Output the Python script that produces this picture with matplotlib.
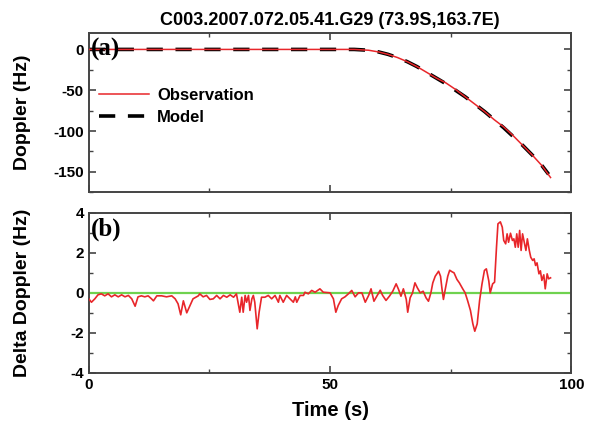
import matplotlib
matplotlib.use("Agg")
import matplotlib.pyplot as plt
import numpy as np

plt.rcParams["font.family"] = ["Liberation Sans", "DejaVu Sans"]
plt.rcParams["axes.unicode_minus"] = False

title = "C003.2007.072.05.41.G29 (73.9S,163.7E)"

# panel (a): doppler
model_t = [0, 10, 20, 30, 40, 50, 55, 58, 60, 62, 64, 66, 68, 70, 72, 74, 76, 78,
           80, 82, 84, 86, 88, 90, 92, 94, 95.3]
model_v = [0, 0, 0, 0, 0, 0, 0, -1, -3, -6, -10, -15, -21, -28, -35, -42, -50, -58,
           -67, -76, -86, -96, -107, -118, -130, -143, -153]
obs_t = [0, 10, 20, 30, 40, 50, 55, 58, 60, 62, 64, 66, 68, 70, 72, 74, 76, 78,
         80, 82, 84, 86, 88, 90, 92, 94, 95.7]
obs_v = [0, 0, 0, 0, 0, 0, 0, -1, -3, -6, -10, -15, -21, -28, -35, -41, -49, -58,
         -67, -76, -86, -95, -106, -118, -130, -143, -157]

# panel (b): delta doppler, (time, value) pairs
delta = [
    (0, -0.3), (0.55, -0.47), (1.25, -0.3), (1.9, -0.1), (2.6, -0.05), (3.3, -0.15),
    (4.0, -0.05), (4.7, -0.2), (5.4, -0.1), (6.1, -0.2), (6.8, -0.1), (7.5, -0.2),
    (8.2, -0.13), (8.9, -0.3), (9.6, -0.67), (10.2, -0.2), (10.9, -0.15), (11.6, -0.2),
    (12.3, -0.15), (13.0, -0.3), (13.4, -0.4), (14.1, -0.15), (15.1, -0.15), (16.1, -0.2),
    (17.2, -0.15), (17.9, -0.3), (18.5, -0.55), (19.05, -1.1), (19.6, -0.4), (20.3, -1.0),
    (21.0, -0.63), (21.6, -0.3), (22.7, -0.15), (23.0, -0.05), (23.7, -0.2), (24.4, -0.13),
    (25.1, -0.33), (25.8, -0.3), (26.5, -0.13), (27.2, -0.3), (27.9, -0.13), (28.6, -0.22),
    (29.3, -0.1), (30.0, -0.22), (30.6, -0.05), (31.3, -0.97), (31.7, -0.22), (32.0, -0.97),
    (32.4, -0.13), (32.7, -0.47), (33.1, -0.13), (33.4, -0.88), (33.8, -0.3), (34.1, -0.13),
    (34.4, -0.47), (34.9, -1.8), (35.3, -0.97), (35.8, -0.22), (36.5, -0.22), (37.2, -0.13),
    (37.9, -0.3), (38.6, -0.13), (39.3, -0.47), (39.6, -0.13), (40.3, -0.47), (41.0, -0.13),
    (41.7, -0.3), (42.4, -0.47), (42.8, -0.2), (43.1, -0.47), (43.8, -0.13), (44.5, -0.13),
    (44.8, 0.03), (45.5, -0.05), (46.2, 0.12), (46.9, 0.03), (47.9, 0.2), (48.6, 0.03),
    (50.0, 0.0), (50.7, -0.3), (51.2, -0.97), (51.7, -0.63), (52.4, -0.3), (53.1, -0.2),
    (53.8, -0.05), (54.5, 0.12), (55.2, -0.2), (55.9, 0.0), (56.6, 0.0), (57.3, -0.47),
    (58.0, -0.13), (58.5, 0.2), (59.1, -0.42), (59.7, -0.17), (60.4, 0.13), (60.9, -0.13),
    (61.6, -0.38), (62.3, -0.17), (63.0, 0.08), (63.7, 0.45), (64.2, 0.17), (64.7, -0.17),
    (65.2, 0.2), (65.8, -0.33), (66.1, -0.97), (66.6, -0.25), (67.1, 0.0), (67.6, 0.5),
    (68.1, 0.25), (68.7, 0.0), (69.3, 0.08), (69.9, -0.25), (70.4, -0.42), (70.9, 0.0),
    (71.3, 0.5), (71.8, 0.83), (72.5, 1.08), (72.9, 0.83), (73.2, 0.2), (73.5, -0.33),
    (73.9, 0.2), (74.4, 0.83), (74.8, 1.13), (75.3, 1.05), (75.7, 1.0), (76.3, 0.67),
    (76.8, 0.5), (77.5, 0.2), (78.0, 0.0), (78.5, -0.38), (79.1, -0.88), (79.6, -1.55),
    (80.0, -1.92), (80.5, -1.55), (81.0, -0.38), (81.5, 0.45), (82.0, 1.12), (82.4, 1.2),
    (82.9, 0.6), (83.2, 0.0), (83.7, 0.45), (84.1, 0.53), (84.5, 2.28), (84.8, 3.45),
    (85.3, 3.55), (85.7, 3.28), (86.0, 2.62), (86.4, 2.45), (86.7, 2.95), (87.0, 2.53),
    (87.4, 2.98), (87.8, 2.62), (88.1, 2.7), (88.4, 2.28), (88.7, 2.95), (89.0, 2.28),
    (89.3, 3.12), (89.6, 2.12), (89.9, 2.95), (90.2, 2.6), (90.6, 2.12), (90.9, 2.7),
    (91.3, 2.12), (91.6, 1.78), (92.0, 1.62), (92.3, 1.7), (92.6, 1.37), (92.9, 1.5),
    (93.3, 0.95), (93.6, 1.1), (93.9, 0.62), (94.3, 0.9), (94.6, 0.2), (95.0, 0.95),
    (95.3, 0.7), (95.7, 0.75),
]
delta_t = [p[0] for p in delta]
delta_v = [p[1] for p in delta]

red = "#e8262a"

fig = plt.figure(figsize=(5.92, 4.30), dpi=100)
ax1 = fig.add_axes([0.150, 0.553, 0.815, 0.370])
ax2 = fig.add_axes([0.150, 0.133, 0.815, 0.372])

ax1.plot(model_t, model_v, color="black", lw=2.6, ls=(0, (4.5, 3.5)), label="Model", zorder=2)
ax1.plot(obs_t, obs_v, color=red, lw=1.1, label="Observation", zorder=3)
ax1.set_xlim(0, 100)
ax1.set_ylim(-175, 20)
ax1.set_yticks([0, -50, -100, -150])
ax1.set_yticks([-25, -75, -125, -175], minor=True)
ax1.set_xticks([0, 50, 100])
ax1.set_xticks([25, 75], minor=True)
ax1.tick_params(labelbottom=False)
ax1.set_ylabel("Doppler (Hz)", fontsize=14, fontweight="bold")
ax1.set_title(title, fontsize=13, fontweight="bold", pad=6)
ax1.text(0.005, 0.97, "(a)", transform=ax1.transAxes, fontsize=18, fontweight="bold",
         family="Liberation Serif", va="top", ha="left")
h, l = ax1.get_legend_handles_labels()
ax1.legend(h[::-1], l[::-1], loc="upper left", bbox_to_anchor=(-0.01, 0.75), frameon=False,
           handlelength=3.0, prop={"weight": "bold", "size": 12},
           labelspacing=0.4, handletextpad=0.5)

ax2.axhline(0, color="#6fd24f", lw=1.6, zorder=2)
ax2.plot(delta_t, delta_v, color=red, lw=1.2, zorder=3)
ax2.set_xlim(0, 100)
ax2.set_ylim(-4, 4)
ax2.set_yticks([-4, -2, 0, 2, 4])
ax2.set_yticks([-3, -1, 1, 3], minor=True)
ax2.set_xticks([0, 50, 100])
ax2.set_xticks([25, 75], minor=True)
ax2.set_ylabel("Delta Doppler (Hz)", fontsize=14, fontweight="bold")
ax2.set_xlabel("Time (s)", fontsize=14.5, fontweight="bold", labelpad=7)
ax2.text(0.005, 0.97, "(b)", transform=ax2.transAxes, fontsize=18, fontweight="bold",
         family="Liberation Serif", va="top", ha="left")

for ax in (ax1, ax2):
    for sp in ax.spines.values():
        sp.set_linewidth(1.4)
        sp.set_color("#444444")
    ax.tick_params(which="both", direction="in", top=True, right=True, color="#444444")
    ax.tick_params(which="major", length=5, width=1.2, labelsize=11)
    ax.tick_params(which="minor", length=3, width=1.0)
    for lab in ax.get_xticklabels() + ax.get_yticklabels():
        lab.set_fontweight("bold")

ax1.yaxis.set_label_coords(-0.12, 0.5)
ax2.yaxis.set_label_coords(-0.12, 0.5)

fig.savefig("out.png", dpi=100)
